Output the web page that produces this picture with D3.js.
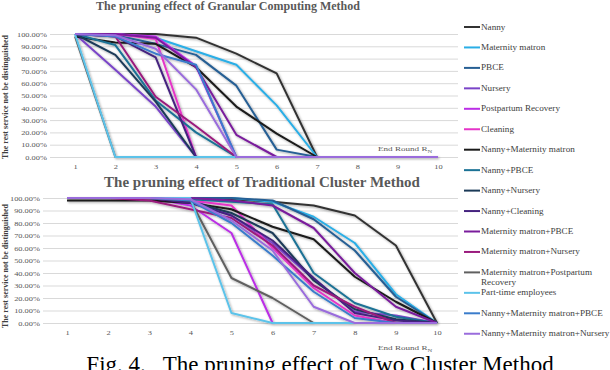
<!DOCTYPE html>
<html>
<head>
<meta charset="utf-8">
<script src="https://cdn.jsdelivr.net/npm/d3@7"></script>
<style>
body { margin: 0; background: #fff; }
svg { display: block; font-family: "Liberation Serif", "Times New Roman", serif; }
</style>
</head>
<body>
<div class="Graph"></div>
<script>
var rounds = [1, 2, 3, 4, 5, 6, 7, 8, 9, 10];
var yTicks = [0, 10, 20, 30, 40, 50, 60, 70, 80, 90, 100];

var names = ["Nanny", "Maternity matron", "PBCE", "Nursery", "Postpartum Recovery", "Cleaning",
    "Nanny+Maternity matron", "Nanny+PBCE", "Nanny+Nursery", "Nanny+Cleaning",
    "Maternity matron+PBCE", "Maternity matron+Nursery", "Maternity matron+Postpartum Recovery",
    "Part-time employees", "Nanny+Maternity matron+PBCE", "Nanny+Maternity matron+Nursery"];

var colors = ["#333333", "#2aaee6", "#265f94", "#7a44c8", "#bb2ee6", "#e535c8",
    "#1a1a1a", "#1b7295", "#1b3a58", "#45237f",
    "#7a1d9c", "#9a1a7d", "#606060",
    "#5cc3ea", "#3a7ccb", "#9a6cdc"];

// Granular Computing Method (%), one row per service
var granular = [
    [100, 100, 100, 97, 84, 68, 0, 0, 0, 0],
    [100, 100, 97, 86, 75, 42, 0, 0, 0, 0],
    [100, 99, 92, 83, 58, 6, 0, 0, 0, 0],
    [100, 71, 41, 0, 0, 0, 0, 0, 0, 0],
    [100, 100, 98, 74, 0, 0, 0, 0, 0, 0],
    [100, 100, 96, 0, 0, 0, 0, 0, 0, 0],
    [98, 93, 92, 73, 41, 19, 0, 0, 0, 0],
    [100, 91, 46, 20, 0, 0, 0, 0, 0, 0],
    [100, 83, 45, 0, 0, 0, 0, 0, 0, 0],
    [100, 98, 81, 0, 0, 0, 0, 0, 0, 0],
    [100, 100, 97, 73, 18, 0, 0, 0, 0, 0],
    [100, 98, 49, 25, 0, 0, 0, 0, 0, 0],
    [98, 0, 0, 0, 0, 0, 0, 0, 0, 0],
    [100, 0, 0, 0, 0, 0, 0, 0, 0, 0],
    [100, 98, 84, 75, 0, 0, 0, 0, 0, 0],
    [100, 99, 88, 55, 0, 0, 0, 0, 0, 0]
];

// Traditional Cluster Method (%)
var traditional = [
    [100, 100, 100, 100, 99, 97, 94, 86, 62, 0],
    [100, 100, 100, 100, 100, 97, 85, 64, 23, 0],
    [100, 100, 100, 100, 100, 98, 83, 58, 21, 0],
    [100, 100, 100, 99, 86, 64, 35, 9, 6, 0],
    [100, 100, 100, 94, 72, 0, 0, 0, 0, 0],
    [100, 100, 100, 98, 94, 60, 28, 6, 0, 0],
    [98, 98, 98, 96, 91, 77, 67, 37, 17, 0],
    [100, 100, 100, 99, 97, 95, 40, 16, 5, 0],
    [100, 100, 100, 97, 88, 72, 34, 11, 3, 0],
    [100, 100, 100, 96, 86, 66, 36, 8, 2, 0],
    [100, 100, 100, 100, 98, 94, 76, 40, 13, 0],
    [100, 100, 98, 91, 84, 62, 30, 13, 0, 0],
    [100, 100, 100, 98, 36, 20, 0, 0, 0, 0],
    [100, 100, 100, 100, 8, 0, 0, 0, 0, 0],
    [100, 100, 100, 98, 80, 54, 25, 4, 0, 0],
    [100, 100, 100, 99, 82, 58, 13, 0, 0, 0]
];

var W = 610, H = 370;
var SX = 1.2; // text in the picture is a bit stretched sideways
var FONT = "Liberation Serif";

var svg = d3.select(".Graph")
    .append("svg")
    .attr("width", W)
    .attr("height", H)
    .attr("viewBox", [0, 0, W, H]);

svg.append("defs").append("filter")
    .attr("id", "shadow")
    .attr("x", "-10%").attr("y", "-10%")
    .attr("width", "120%").attr("height", "120%")
    .append("feDropShadow")
    .attr("dx", 1.2).attr("dy", 1.2)
    .attr("stdDeviation", 0.8)
    .attr("flood-color", "#000")
    .attr("flood-opacity", 0.35);

function draw(data, cfg) {
    var g = svg.append("g");

    var x = d3.scalePoint().domain(rounds).range([cfg.x0, cfg.x1]);
    var y = d3.scaleLinear().domain([0, 100]).range([cfg.yb, cfg.yt]);

    // gridlines
    g.append("g")
        .attr("transform", "translate(" + cfg.gl + ",0)")
        .call(d3.axisLeft(y).tickValues(yTicks).tickSize(-(cfg.gr - cfg.gl)).tickFormat(""))
        .call(s => s.select(".domain").remove())
        .call(s => s.selectAll("line").attr("stroke", "#d9d9d9").attr("stroke-width", 1));

    // y tick labels
    g.append("g")
        .attr("transform", "translate(" + cfg.lx + ",0)")
        .call(d3.axisLeft(y).tickValues(yTicks).tickSize(0).tickPadding(0)
            .tickFormat(d => d.toFixed(2) + "%"))
        .call(s => s.select(".domain").remove())
        .call(s => s.selectAll("text")
            .attr("fill", "#595959")
            .attr("transform", "scale(" + SX + ",1)")
            .style("font-family", FONT)
            .style("font-size", "7px"));

    // x tick labels
    g.append("g")
        .attr("transform", "translate(0," + cfg.xl + ")")
        .call(d3.axisBottom(x).tickSize(0).tickPadding(0))
        .call(s => s.select(".domain").remove())
        .call(s => s.selectAll("text")
            .attr("fill", "#595959")
            .attr("transform", "scale(" + SX + ",1)")
            .style("font-family", FONT)
            .style("font-size", "7px"));

    var line = d3.line()
        .x((d, i) => x(rounds[i]))
        .y(d => y(d));

    g.append("g")
        .attr("filter", "url(#shadow)")
        .selectAll("path")
        .data(data)
        .enter()
        .append("path")
        .attr("d", d => line(d))
        .attr("fill", "none")
        .attr("stroke", (d, i) => colors[i])
        .attr("stroke-width", 2)
        .attr("stroke-linejoin", "round");

    // title
    g.append("text")
        .attr("x", cfg.tx)
        .attr("y", cfg.ty)
        .attr("text-anchor", "middle")
        .attr("fill", "#595959")
        .style("font-family", FONT)
        .style("font-weight", "bold")
        .style("font-size", cfg.tsize + "px")
        .text(cfg.title);

    // y title
    g.append("text")
        .attr("transform", "translate(8," + cfg.ay + ") rotate(-90)")
        .attr("text-anchor", "middle")
        .attr("fill", "#404040")
        .style("font-family", FONT)
        .style("font-weight", "bold")
        .style("font-size", "8px")
        .text("The rest service not be distinguished");

    // x title
    var xt = g.append("text")
        .attr("transform", "translate(378," + cfg.ex + ") scale(1.3,1)")
        .attr("fill", "#595959")
        .style("font-family", FONT)
        .style("font-size", "7px");
    xt.append("tspan").text("End Round R");
    xt.append("tspan").attr("dy", 2).style("font-size", "5px").text("N");
}

draw(granular, {
    x0: 75, x1: 438, yb: 157, yt: 34, gl: 50, gr: 458, lx: 47, xl: 164,
    title: "The pruning effect of Granular Computing Method", tx: 228, ty: 10, tsize: 12,
    ay: 97, ex: 151
});

draw(traditional, {
    x0: 67, x1: 437, yb: 323, yt: 198, gl: 43, gr: 458, lx: 40, xl: 330,
    title: "The pruning effect of Traditional Cluster Method", tx: 262, ty: 187, tsize: 15,
    ay: 266, ex: 350
});

// legend
var legend = svg.append("g")
    .selectAll("g")
    .data(names)
    .enter()
    .append("g")
    .attr("transform", (d, i) => "translate(464," + (27 + i * 20.45) + ")");

legend.append("line")
    .attr("x1", 0).attr("x2", 16)
    .attr("stroke", (d, i) => colors[i])
    .attr("stroke-width", 2);

legend.append("text")
    .attr("transform", "translate(17,2.5) scale(1.22,1)")
    .attr("fill", "#404040")
    .style("font-family", FONT)
    .style("font-size", "7.5px")
    .each(function (d) {
        var t = d3.select(this);
        if (d === "Maternity matron+Postpartum Recovery") {
            t.append("tspan").attr("x", 0).text("Maternity matron+Postpartum");
            t.append("tspan").attr("x", 0).attr("dy", 10).text("Recovery");
        } else {
            t.text(d);
        }
    });

// figure caption (cut off by the frame, as in the source)
svg.append("text")
    .attr("x", 320)
    .attr("y", 372)
    .attr("text-anchor", "middle")
    .attr("fill", "#000")
    .attr("xml:space", "preserve")
    .style("font-family", FONT)
    .style("font-size", "23px")
    .text("Fig. 4.   The pruning effect of Two Cluster Method");
</script>
</body>
</html>
